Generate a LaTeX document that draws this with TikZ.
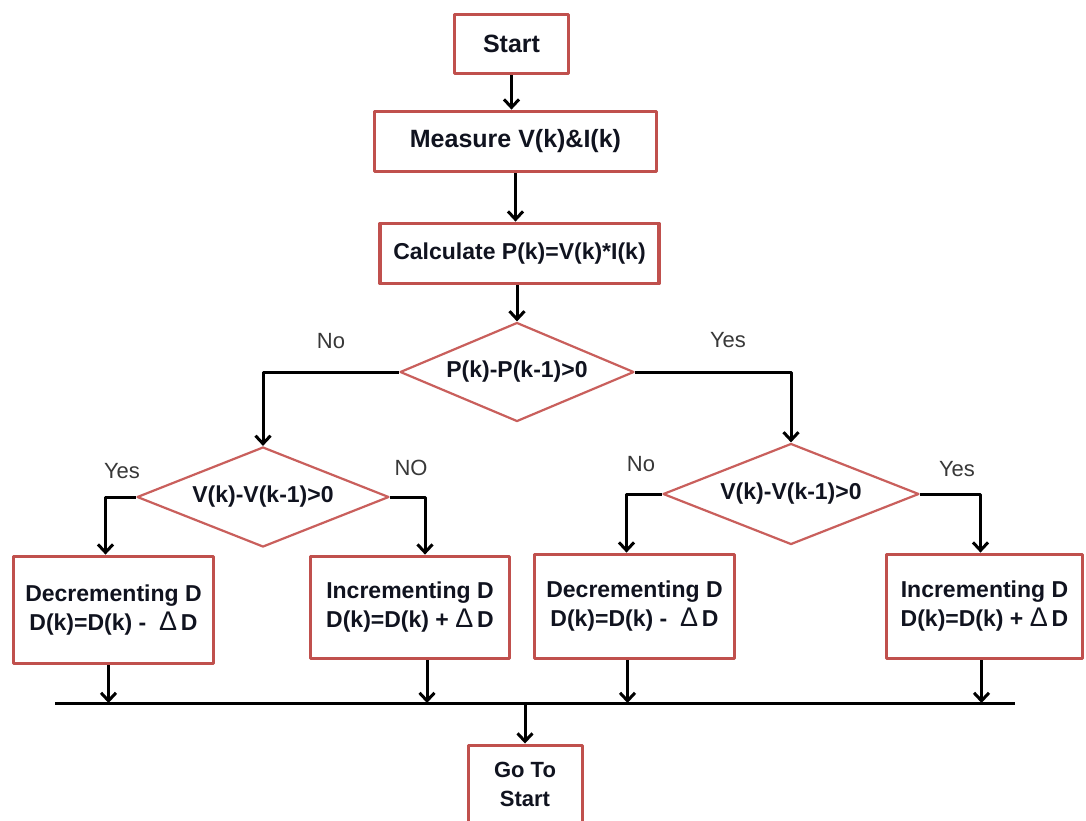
\documentclass[tikz,border=0pt]{standalone}
\usepackage{fontspec}
\setmainfont{Liberation Sans}
\usetikzlibrary{arrows.meta,shapes.geometric}
\definecolor{Bline}{HTML}{C0504D}
\definecolor{Dline}{HTML}{C95F5C}
\definecolor{Btext}{HTML}{10131F}
\definecolor{Ltext}{HTML}{383838}

\begin{document}
\begin{tikzpicture}[x=1pt,y=-1pt,line join=round,
  box/.style={draw=Bline,line width=3.8pt,fill=white,align=center,inner sep=0pt,
    text=Btext,font=\bfseries\fontsize{23}{29}\selectfont},
  big/.style={font=\bfseries\fontsize{25}{30}\selectfont},
  test/.style={diamond,draw=Dline,line width=2.2pt,aspect=2.5,inner sep=0pt,
    text=Btext,font=\bfseries\fontsize{23}{29}\selectfont},
  lbl/.style={text=Ltext,inner sep=0pt,font=\fontsize{22}{26}\selectfont},
  flow/.style={line width=3pt,-{Straight Barb[length=8pt,width=15pt]}}]
\def\dlt{{\mdseries\fontsize{27}{29}\selectfont Δ}}

\path[use as bounding box,fill=white] (0,0) rectangle (1086,820);

% ---- main column ----
\node[box,big,minimum width=114pt,minimum height=59pt] (start) at (511.5,44) {Start};
\node[box,big,minimum width=282pt,minimum height=60pt] (meas) at (515.5,141.5) {Measure V(k)\&I(k)};
\node[box,minimum width=279pt,minimum height=60pt] (calc) at (519.5,253.5) {Calculate P(k)=V(k)*I(k)};

% ---- decisions ----
\node[test,minimum width=234pt,minimum height=99pt] (dpow) at (517,372) {P(k)-P(k-1)>0};
\node[test,minimum width=252pt,minimum height=100pt] (dvl) at (263,497) {V(k)-V(k-1)>0};
\node[test,minimum width=256pt,minimum height=101pt] (dvr) at (791,494) {V(k)-V(k-1)>0};

% ---- duty cycle updates ----
\node[box,minimum width=200pt,minimum height=107pt] (decl) at (113.5,610)
  {Decrementing D\\D(k)=D(k) -\ \ \dlt\,D};
\node[box,minimum width=199pt,minimum height=102pt] (incl) at (410,607.5)
  {Incrementing D\\D(k)=D(k) + \dlt\,D};
\node[box,minimum width=200pt,minimum height=104pt] (decr) at (634.5,606.5)
  {Decrementing D\\D(k)=D(k) -\ \ \dlt\,D};
\node[box,minimum width=196pt,minimum height=104pt] (incr) at (984.5,606.5)
  {Incrementing D\\D(k)=D(k) + \dlt\,D};

% ---- common return ----
\coordinate (busL) at (55,703);
\coordinate (busR) at (1015,703);
\node[box,line width=3pt,font=\bfseries\fontsize{22}{29}\selectfont,minimum width=114pt,minimum height=78pt]
  (goto) at (525,784) {Go To\\Start};

% ---- branch labels ----
\node[lbl] (nop) at (331,341) {No};
\node[lbl] (yesp) at (728,340) {Yes};
\node[lbl] (yesvl) at (122,471) {Yes};
\node[lbl] (novl) at (411,468) {NO};
\node[lbl] (novr) at (641,464) {No};
\node[lbl] (yesvr) at (957,469) {Yes};

% ---- connectors ----
\draw[flow] (start.south) -- (start.south |- meas.north);
\draw[flow] (meas.south) -- (meas.south |- calc.north);
\draw[flow] (dpow.north |- calc.south) -- (dpow.north);
\draw[flow] (dpow.west) -| (dvl.north);
\draw[flow] (dpow.east) -| (dvr.north);
\draw[flow] (dvl.west) -| ([xshift=-8pt]decl.north);
\draw[flow] (dvl.east) -| ([xshift=15pt]incl.north);
\draw[flow] (dvr.west) -| ([xshift=-8pt]decr.north);
\draw[flow] (dvr.east) -| ([xshift=-4pt]incr.north);
\foreach \n/\dx in {decl/-5,incl/17,decr/-7,incr/-3}
  \draw[flow] ([xshift=\dx pt]\n.south) -- ([xshift=\dx pt]\n.south |- busL);
\draw[line width=3pt] (busL) -- (busR);
\draw[flow] (goto.north |- busL) -- (goto.north);
\end{tikzpicture}
\end{document}
